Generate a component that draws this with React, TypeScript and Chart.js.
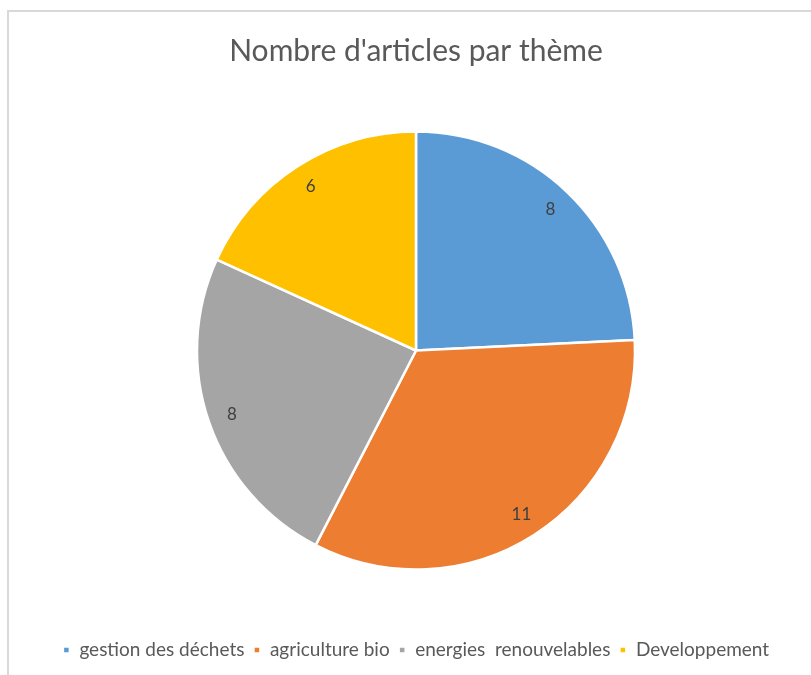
import React, { useEffect, useRef } from "react";
import { Chart, registerables } from "chart.js";

Chart.register(...registerables);

const categories = ["gestion des déchets", "agriculture bio", "energies  renouvelables", "Developpement"];
const values = [8, 11, 8, 6];
const colors = ["#5B9BD5", "#ED7D31", "#A5A5A5", "#FFC000"];
const titleText = "Nombre d'articles par thème";
const FONT = "Lato, 'Open Sans', sans-serif";

const labelPlugin = {
  id: "sliceLabels",
  afterDatasetsDraw(chart: any) {
    const ctx = chart.ctx;
    const meta = chart.getDatasetMeta(0);
    ctx.save();
    ctx.font = `17px ${FONT}`;
    ctx.fillStyle = "#404040";
    ctx.textAlign = "center";
    ctx.textBaseline = "middle";
    meta.data.forEach((arc: any, i: number) => {
      const p = arc.getProps(["x", "y", "startAngle", "endAngle", "outerRadius"], true);
      const a = (p.startAngle + p.endAngle) / 2;
      const r = p.outerRadius * 0.89;
      ctx.fillText(String(chart.data.datasets[0].data[i]), p.x + Math.cos(a) * r, p.y + Math.sin(a) * r);
    });
    ctx.restore();
  },
};

export default function App() {
  const ref = useRef<HTMLCanvasElement>(null);
  useEffect(() => {
    const chart = new Chart(ref.current!, {
      type: "pie",
      data: {
        labels: categories,
        datasets: [
          {
            data: values,
            backgroundColor: colors,
            borderColor: "#ffffff",
            borderWidth: 2.5,
            radius: 219,
          } as any,
        ],
      },
      options: {
        animation: false,
        responsive: true,
        maintainAspectRatio: false,
        layout: { padding: { left: 21, right: 0, top: 0, bottom: 5.5 } },
        plugins: {
          title: {
            display: true,
            text: titleText,
            color: "#595959",
            font: { family: FONT, size: 30, weight: "normal", lineHeight: 1 },
            padding: { top: 36.5, bottom: 3 },
          },
          legend: {
            position: "bottom",
            labels: {
              color: "#595959",
              font: { family: FONT, size: 19 },
              boxWidth: 7,
              boxHeight: 7,
              padding: 9,
            },
          },
          tooltip: { enabled: false },
        },
      },
      plugins: [labelPlugin],
    });
    return () => chart.destroy();
  }, []);
  return (
    <div style={{ position: "fixed", left: 0, top: 0, width: 811, height: 675, overflow: "hidden", background: "#fff" }}>
      <div
        style={{
          position: "absolute",
          left: 7,
          top: 10,
          width: 900,
          height: 900,
          border: "2px solid #d9d9d9",
          boxSizing: "border-box",
        }}
      />
      <div style={{ position: "absolute", left: 0, top: 0, width: 811, height: 675 }}>
        <canvas ref={ref} />
      </div>
    </div>
  );
}
